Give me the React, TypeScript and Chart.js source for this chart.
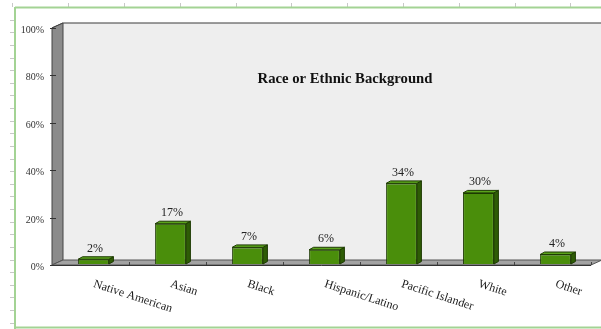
import React, { useEffect, useRef } from "react";
import { Chart, registerables } from "chart.js";

Chart.register(...registerables);

const categories = ["Native American", "Asian", "Black", "Hispanic/Latino", "Pacific Islander", "White", "Other"];
const percentValues = [2, 17, 7, 6, 34, 30, 4];
const yTickValues = [0, 20, 40, 60, 80, 100];
const chartTitle = "Race or Ethnic Background";

const SERIF = '"Liberation Serif", "Times New Roman", serif';

const decorPlugin = {
  id: "decor3d",
  beforeDraw(chart: any) {
    const { ctx, chartArea, width, height } = chart;
    const y = chart.scales.y;
    ctx.save();
    ctx.fillStyle = "#ffffff";
    ctx.fillRect(0, 0, width, height);

    // ruler ticks
    ctx.strokeStyle = "#c8c8c8";
    ctx.lineWidth = 1;
    for (let k = 1; k < 26; k++) {
      const yy = Math.round(7 + 12.63 * k) + 0.5;
      ctx.beginPath();
      ctx.moveTo(10, yy);
      ctx.lineTo(14, yy);
      ctx.stroke();
    }
    for (let k = 0; k < 12; k++) {
      const xx = Math.round(12.3 + 55.8 * k) + 0.5;
      ctx.beginPath();
      ctx.moveTo(xx, 3);
      ctx.lineTo(xx, 7);
      ctx.stroke();
    }
    // green frame
    ctx.strokeStyle = "#a3d394";
    ctx.lineWidth = 2;
    ctx.beginPath();
    ctx.moveTo(15, 7.5);
    ctx.lineTo(width, 7.5);
    ctx.moveTo(15, 7);
    ctx.lineTo(15, height);
    ctx.moveTo(15, 327.5);
    ctx.lineTo(width, 327.5);
    ctx.stroke();

    const fx = chartArea.left - 3; // front wall edge
    const dX = 11, dY = -5;
    const yTop = y.getPixelForValue(100) + 1;
    const yBot = y.getPixelForValue(0) + 1;
    const frontRight = fx + (chartArea.right - chartArea.left);

    // back wall
    ctx.fillStyle = "#eeeeee";
    ctx.fillRect(fx + dX, yTop + dY, width - (fx + dX), yBot - yTop);
    // top line of back wall
    ctx.strokeStyle = "#3a3a3a";
    ctx.lineWidth = 1.2;
    ctx.beginPath();
    ctx.moveTo(fx, yTop);
    ctx.lineTo(fx + dX, yTop + dY);
    ctx.lineTo(width, yTop + dY);
    ctx.stroke();

    // left wall
    ctx.fillStyle = "#8b8b8b";
    ctx.beginPath();
    ctx.moveTo(fx, yTop);
    ctx.lineTo(fx + dX, yTop + dY);
    ctx.lineTo(fx + dX, yBot + dY);
    ctx.lineTo(fx, yBot);
    ctx.closePath();
    ctx.fill();
    ctx.strokeStyle = "#444";
    ctx.lineWidth = 1;
    ctx.stroke();

    // floor
    ctx.fillStyle = "#a3a3a3";
    ctx.beginPath();
    ctx.moveTo(fx, yBot);
    ctx.lineTo(fx + dX, yBot + dY);
    ctx.lineTo(frontRight + dX, yBot + dY);
    ctx.lineTo(frontRight, yBot);
    ctx.closePath();
    ctx.fill();
    ctx.strokeStyle = "#555";
    ctx.stroke();
    ctx.strokeStyle = "#333";
    ctx.beginPath();
    ctx.moveTo(fx, yBot + 0.5);
    ctx.lineTo(frontRight, yBot + 0.5);
    ctx.stroke();

    // floor ticks at category boundaries
    const step = (chartArea.right - chartArea.left) / categories.length;
    ctx.strokeStyle = "#444";
    for (let i = 1; i <= categories.length; i++) {
      const xx = Math.round(fx + step * i) + 0.5;
      ctx.beginPath();
      ctx.moveTo(xx, yBot - 3);
      ctx.lineTo(xx, yBot);
      ctx.stroke();
    }

    // y ticks and labels
    ctx.font = `10px ${SERIF}`;
    ctx.fillStyle = "#333";
    ctx.textAlign = "right";
    ctx.textBaseline = "middle";
    yTickValues.forEach((v) => {
      const yy = Math.round(y.getPixelForValue(v) + 1) + 0.5;
      ctx.strokeStyle = "#333";
      ctx.beginPath();
      ctx.moveTo(fx - 2, yy);
      ctx.lineTo(fx + 4, yy);
      ctx.stroke();
      ctx.fillText(`${v}%`, fx - 8, yy + 2);
    });

    // title
    ctx.font = `bold 14.7px ${SERIF}`;
    ctx.fillStyle = "#111";
    ctx.textAlign = "center";
    ctx.textBaseline = "alphabetic";
    ctx.fillText(chartTitle, 345, 83);
    ctx.restore();
  },
  afterDatasetsDraw(chart: any) {
    const { ctx } = chart;
    const meta = chart.getDatasetMeta(0);
    const dx = 4.5, dy = -2.5;
    ctx.save();
    meta.data.forEach((bar: any, i: number) => {
      const { x, y, base, width } = bar.getProps(["x", "y", "base", "width"], true);
      const l = x - width / 2, r = x + width / 2;
      ctx.lineWidth = 1;
      ctx.strokeStyle = "#1d3a02";
      // side
      ctx.fillStyle = "#2e5c06";
      ctx.beginPath();
      ctx.moveTo(r, y);
      ctx.lineTo(r + dx, y + dy);
      ctx.lineTo(r + dx, base + dy);
      ctx.lineTo(r, base);
      ctx.closePath();
      ctx.fill();
      ctx.stroke();
      // top
      ctx.fillStyle = "#5aa31a";
      ctx.beginPath();
      ctx.moveTo(l, y);
      ctx.lineTo(l + dx, y + dy);
      ctx.lineTo(r + dx, y + dy);
      ctx.lineTo(r, y);
      ctx.closePath();
      ctx.fill();
      ctx.stroke();

      // value label
      ctx.font = `12px ${SERIF}`;
      ctx.fillStyle = "#222";
      ctx.textAlign = "center";
      ctx.textBaseline = "alphabetic";
      ctx.fillText(`${percentValues[i]}%`, x + 1.5, y - 7.5);

      // category label
      ctx.save();
      ctx.translate(x + 2, 278);
      ctx.rotate((18 * Math.PI) / 180);
      ctx.textAlign = "left";
      ctx.textBaseline = "top";
      ctx.fillStyle = "#1a1a1a";
      ctx.fillText(categories[i], 0, 0);
      ctx.restore();
    });
    ctx.restore();
  },
};

export default function App() {
  const ref = useRef<HTMLCanvasElement | null>(null);
  useEffect(() => {
    if (!ref.current) return;
    const chart = new Chart(ref.current, {
      type: "bar",
      data: {
        labels: categories,
        datasets: [
          {
            data: percentValues,
            backgroundColor: "#4a8e0b",
            borderColor: "#1d3a02",
            borderWidth: 1,
            barPercentage: 0.4,
            categoryPercentage: 1,
          },
        ],
      },
      options: {
        animation: false,
        responsive: false,
        devicePixelRatio: 1,
        layout: { padding: { left: 55, right: 7, top: 27, bottom: 65 } },
        plugins: { legend: { display: false }, tooltip: { enabled: false }, title: { display: false } },
        scales: {
          x: { type: "category", display: false },
          y: { type: "linear", min: 0, max: 100, display: false },
        },
      },
      plugins: [decorPlugin],
    });
    return () => chart.destroy();
  }, []);
  return (
    <div style={{ position: "fixed", left: 0, top: 0, width: 601, height: 329 }}>
      <canvas ref={ref} width={601} height={329} style={{ width: 601, height: 329, display: "block" }} />
    </div>
  );
}
